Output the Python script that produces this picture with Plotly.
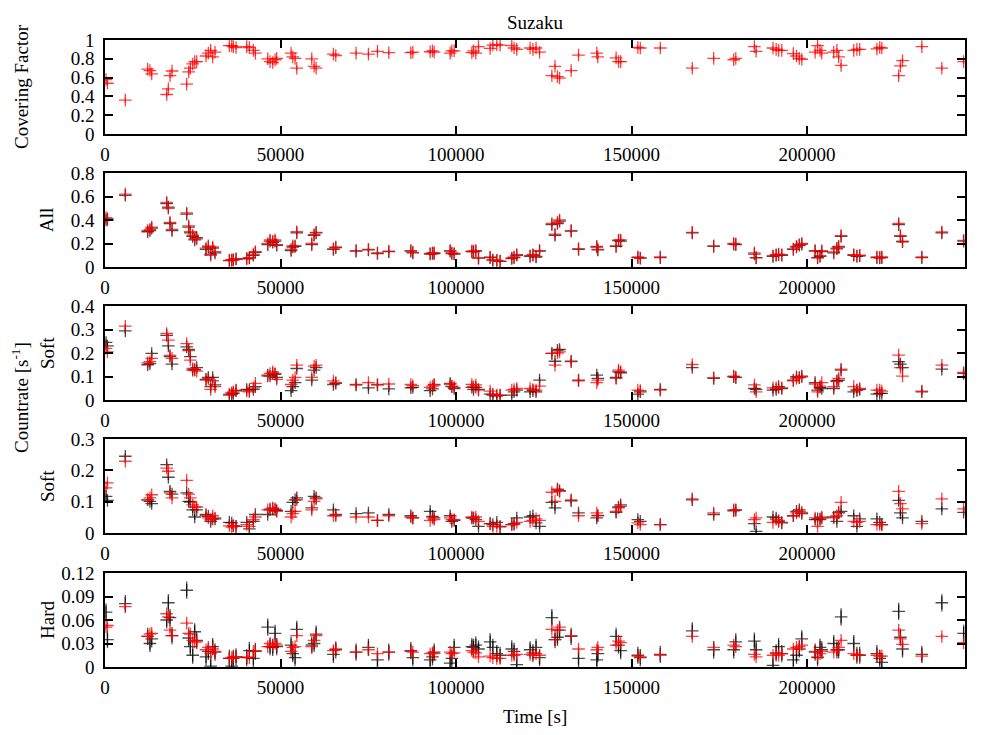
import plotly.graph_objects as go

# Time bins [s]
T = [300, 700, 5790, 12160, 12800, 13300, 17570, 18050, 18520, 19090,
     23270, 23840, 24310, 24980, 25550, 26120, 28780, 29440, 30110, 30680,
     31340, 35430, 36100, 36570, 37330, 40370, 41130, 42270, 42840, 46360,
     47020, 47780, 48450, 48920, 53010, 53490, 54150, 54630, 58900, 59570,
     60140, 65070, 65740, 71530, 75050, 77620, 80850, 87120, 87690, 92630,
     93300, 93770, 98330, 98800, 99470, 104500, 104980, 105640, 106400, 109720,
     110480, 111620, 112560, 115880, 116540, 117300, 121100, 121900, 122800, 123800,
     127300, 128200, 128900, 129500, 132800, 134900, 140100, 140400, 145600, 146300,
     146900, 151800, 152500, 158200, 167300, 173400, 179100, 179700, 185000, 185500,
     190300, 191200, 191900, 192800, 196100, 197000, 197800, 198500, 202300, 203000,
     203700, 204200, 207600, 208500, 209000, 209700, 213300, 214200, 215000, 219900,
     220700, 221300, 226100, 226600, 227200, 232700, 238400, 244600]

cover_red = [.58, .54, .36, .69, .675, .64, .42, .48, .62, .67,
             .53, .66, .70, .745, .77, .77, .83, .86, .89, .82,
             .87, .94, .94, .93, .92, .93, .92, .89, .86, .80,
             .77, .76, .79, .805, .86, .82, .805, .70, .80, .72,
             .70, .85, .835, .86, .85, .88, .865, .865, .87, .875,
             .885, .87, .86, .885, .885, .865, .885, .86, .93, .91,
             .945, .95, .945, .94, .915, .90, .915, .90, .915, .87,
             .62, .72, .61, .595, .675, .84, .86, .82, .81, .77,
             .77, .92, .915, .915, .70, .805, .79, .805, .93, .88,
             .915, .90, .89, .89, .855, .83, .805, .795, .87, .94,
             .89, .86, .87, .89, .82, .73, .89, .90, .90, .905,
             .92, .915, .62, .725, .78, .93, .70, .77]

all_red = [.42, .40, .62, .31, .32, .34, .55, .50, .38, .32,
           .46, .35, .30, .27, .24, .24, .16, .18, .10, .17,
           .13, .057, .057, .062, .07, .07, .08, .11, .13, .20,
           .23, .22, .23, .19, .15, .18, .18, .30, .20, .275,
           .295, .155, .17, .14, .15, .12, .135, .14, .125, .115,
           .12, .12, .14, .12, .115, .135, .135, .14, .077, .085,
           .06, .057, .05, .077, .085, .105, .096, .105, .09, .14,
           .37, .28, .38, .40, .31, .156, .176, .15, .18, .23,
           .23, .085, .077, .085, .295, .18, .20, .195, .12, .077,
           .096, .105, .11, .105, .153, .176, .19, .20, .14, .077,
           .096, .14, .128, .16, .176, .267, .105, .096, .10, .085,
           .082, .085, .37, .267, .22, .085, .298, .227]

all_black = [.40, .41, .61, .30, .31, .33, .54, .51, .37, .31,
             .45, .34, .29, .26, .23, .25, .15, .17, .11, .16,
             .12, .055, .06, .06, .068, .072, .078, .10, .125, .19,
             .22, .21, .22, .185, .14, .17, .175, .29, .19, .27,
             .29, .15, .165, .135, .145, .115, .13, .135, .12, .11,
             .115, .115, .135, .115, .11, .13, .13, .135, .075, .08,
             .058, .055, .048, .072, .08, .10, .09, .10, .085, .135,
             .36, .27, .37, .39, .305, .15, .17, .145, .175, .225,
             .22, .08, .075, .08, .29, .175, .195, .19, .11, .08,
             .09, .10, .105, .10, .15, .17, .185, .195, .135, .08,
             .09, .13, .12, .155, .17, .26, .10, .09, .095, .08,
             .078, .08, .36, .26, .215, .08, .29, .22]

soft1_red = [.22, .205, .314, .158, .163, .177, .283, .255, .19, .177,
             .24, .21, .17, .134, .127, .123, .085, .092, .045, .082,
             .057, .025, .031, .035, .042, .038, .035, .052, .071, .102,
             .113, .12, .113, .088, .066, .085, .096, .148, .096, .144,
             .148, .081, .074, .066, .074, .066, .068, .066, .061, .054,
             .059, .066, .071, .059, .054, .066, .057, .064, .042, .038,
             .025, .021, .021, .042, .045, .049, .049, .045, .042, .059,
             .198, .148, .20, .205, .163, .082, .074, .085, .092, .127,
             .12, .042, .04, .042, .151, .095, .102, .096, .064, .035,
             .052, .052, .052, .052, .082, .092, .096, .099, .068, .035,
             .059, .074, .057, .078, .092, .131, .057, .042, .049, .042,
             .042, .038, .191, .138, .102, .038, .148, .117]

soft1_black = [.245, .23, .294, .15, .155, .198, .275, .23, .185, .153,
               .226, .215, .185, .127, .13, .138, .088, .096, .057, .096,
               .064, .021, .025, .028, .04, .045, .042, .045, .057, .106,
               .102, .113, .109, .096, .04, .057, .074, .134, .085, .127,
               .138, .066, .071, .064, .052, .064, .047, .052, .054, .04,
               .047, .064, .068, .057, .049, .054, .045, .054, .045, .025,
               .021, .017, .02, .021, .035, .042, .035, .04, .035, .085,
               .198, .165, .212, .215, .165, .085, .106, .092, .096, .12,
               .116, .025, .035, .045, .138, .092, .099, .096, .049, .045,
               .042, .045, .057, .049, .085, .099, .095, .102, .074, .042,
               .054, .049, .049, .082, .085, .127, .035, .042, .045, .025,
               .028, .028, .163, .153, .138, .035, .131, .113]

soft2_red = [.144, .16, .229, .106, .112, .122, .207, .197, .128, .112,
             .168, .124, .112, .09, .083, .083, .055, .048, .043, .055,
             .048, .023, .019, .023, .021, .027, .021, .043, .051, .074,
             .077, .08, .077, .069, .051, .062, .069, .106, .074, .101,
             .109, .055, .055, .051, .051, .04, .055, .051, .048, .04,
             .048, .043, .048, .043, .043, .051, .048, .051, .037, .03,
             .021, .021, .021, .027, .027, .034, .037, .04, .045, .04,
             .13, .101, .138, .133, .106, .055, .064, .055, .069, .08,
             .085, .032, .027, .027, .109, .064, .074, .072, .043, .048,
             .034, .043, .04, .034, .055, .064, .069, .066, .048, .021,
             .045, .051, .048, .055, .066, .098, .037, .034, .037, .027,
             .027, .027, .133, .094, .077, .03, .109, .077]

soft2_black = [.117, .104, .245, .106, .101, .094, .218, .178, .133, .124,
               .128, .101, .099, .074, .051, .074, .059, .053, .037, .045,
               .045, .034, .032, .023, .021, .034, .013, .037, .059, .059,
               .074, .077, .074, .072, .069, .098, .106, .112, .08, .117,
               .112, .074, .059, .062, .064, .04, .059, .055, .048, .069,
               .053, .048, .055, .037, .04, .048, .048, .043, .021, .03,
               .027, .034, .02, .027, .03, .048, .051, .055, .032, .021,
               .098, .08, .14, .135, .103, .064, .048, .056, .066, .083,
               .09, .043, .037, .027, .106, .059, .071, .074, .03, .005,
               .051, .048, .037, .032, .055, .069, .074, .062, .043, .045,
               .043, .048, .051, .037, .064, .069, .055, .021, .045, .045,
               .034, .027, .104, .064, .048, .037, .077, .066]

hard_red = [.051, .053, .077, .039, .042, .043, .068, .064, .047, .04,
            .056, .043, .042, .034, .032, .032, .022, .025, .017, .023,
            .02, .011, .012, .013, .013, .013, .012, .02, .021, .026,
            .03, .028, .03, .028, .02, .025, .026, .04, .026, .034,
            .04, .021, .023, .019, .022, .017, .019, .02, .019, .017,
            .018, .017, .019, .017, .018, .021, .019, .018, .013, .014,
            .012, .011, .011, .015, .015, .016, .016, .015, .017, .015,
            .048, .035, .047, .051, .04, .023, .022, .025, .028, .033,
            .031, .014, .013, .015, .039, .025, .028, .026, .016, .013,
            .015, .017, .015, .017, .023, .025, .026, .028, .02, .013,
            .017, .02, .019, .022, .025, .034, .017, .015, .015, .015,
            .014, .014, .047, .036, .029, .014, .039, .031]

hard_black = [.07, .035, .081, .039, .03, .036, .06, .082, .063, .04,
              .098, .037, .026, .015, .045, .034, .013, .02, .001, .026,
              .019, .011, .001, .011, .013, .012, .021, .011, .02, .051,
              .026, .025, .043, .026, .028, .017, .012, .048, .028, .03,
              .042, .016, .022, .019, .025, .009, .019, .021, .012, .009,
              .013, .019, .005, .011, .025, .026, .025, .028, .023, .032,
              .025, .017, .015, .023, .02, .003, .022, .018, .025, .012,
              .063, .035, .038, .047, .039, .011, .009, .017, .039, .028,
              .021, .015, .012, .016, .046, .022, .022, .032, .033, .022,
              .002, .018, .026, .017, .009, .015, .023, .036, .019, .012,
              .025, .022, .03, .022, .022, .064, .03, .015, .015, .017,
              .011, .006, .071, .038, .023, .016, .082, .043]

# typical 1-sigma errors per series
ERR = {"cover_red": 0.025, "all_red": 0.012, "all_black": 0.014,
       "soft1_red": 0.008, "soft1_black": 0.012,
       "soft2_red": 0.006, "soft2_black": 0.009,
       "hard_red": 0.003, "hard_black": 0.011}

x_ticks = [0, 50000, 100000, 150000, 200000]
x_ticktext = ["0", "50000", "100000", "150000", "200000"]

panels = [
    dict(series=[("cover_red", cover_red, None)], yr=[0, 1],
         yt=[0, 0.2, 0.4, 0.6, 0.8, 1], ytt=["0", "0.2", "0.4", "0.6", "0.8", "1"]),
    dict(series=[("all_black", all_black, "k"), ("all_red", all_red, "r")], yr=[0, 0.8],
         yt=[0, 0.2, 0.4, 0.6, 0.8], ytt=["0", "0.2", "0.4", "0.6", "0.8"]),
    dict(series=[("soft1_black", soft1_black, "k"), ("soft1_red", soft1_red, "r")], yr=[0, 0.4],
         yt=[0, 0.1, 0.2, 0.3, 0.4], ytt=["0", "0.1", "0.2", "0.3", "0.4"]),
    dict(series=[("soft2_black", soft2_black, "k"), ("soft2_red", soft2_red, "r")], yr=[0, 0.3],
         yt=[0, 0.1, 0.2, 0.3], ytt=["0", "0.1", "0.2", "0.3"]),
    dict(series=[("hard_black", hard_black, "k"), ("hard_red", hard_red, "r")], yr=[0, 0.12],
         yt=[0, 0.03, 0.06, 0.09, 0.12], ytt=["0", "0.03", "0.06", "0.09", "0.12"]),
]

# page pixel extents; the page body adds an 8px offset
OFF = 8
W, H = 1000 - 2 * OFF, 735 - 2 * OFF
L, R, TOP, BOT = 105, 965, 40, 667
pix = [(40, 134), (173, 267), (306, 400), (439, 533), (573, 667)]

def fy(py):
    return (BOT - py) / (BOT - TOP)

def fx(px):
    return (px - L) / (R - L)

FONT = "Liberation Serif"
FS = 19
COLS = {"k": "rgba(0,0,0,0.7)", "r": "rgba(255,0,0,0.75)", None: "rgba(255,0,0,0.75)"}

fig = go.Figure()
layout = dict(
    width=W, height=H, autosize=False,
    margin=dict(l=L - OFF, r=W - (R - OFF), t=TOP - OFF, b=H - (BOT - OFF), pad=0),
    paper_bgcolor="white", plot_bgcolor="white",
    showlegend=False,
    font=dict(family=FONT, size=FS, color="black"),
    title=dict(text="Suzaku", x=0.5, xref="paper", xanchor="center",
               y=1 - (22 - OFF) / H, yref="container", yanchor="middle",
               font=dict(family=FONT, size=FS, color="black")),
)

axis_common = dict(showline=True, linewidth=1.5, linecolor="black", mirror="ticks",
                   ticks="inside", ticklen=8, tickwidth=1.5, tickcolor="black",
                   showgrid=False, zeroline=False,
                   tickfont=dict(family=FONT, size=FS, color="black"))

for i, p in enumerate(panels):
    n = i + 1
    xa = "x" if n == 1 else f"x{n}"
    ya = "y" if n == 1 else f"y{n}"
    for name, vals, c in p["series"]:
        col = COLS[c]
        fig.add_trace(go.Scatter(
            x=T, y=vals, mode="markers", xaxis=xa, yaxis=ya,
            marker=dict(symbol="cross-thin", size=9, color=col,
                        line=dict(width=1.3, color=col)),
            error_y=dict(type="constant", value=ERR[name], thickness=1.3,
                         width=0, color=col),
            hoverinfo="skip"))
    top, bot = pix[i]
    layout["xaxis" if n == 1 else f"xaxis{n}"] = dict(
        axis_common, domain=[0, 1], anchor=ya, range=[0, 245000],
        tickvals=x_ticks, ticktext=x_ticktext, ticklabelstandoff=2)
    layout["yaxis" if n == 1 else f"yaxis{n}"] = dict(
        axis_common, domain=[fy(bot), fy(top)], anchor=xa, range=p["yr"],
        tickvals=p["yt"], ticktext=p["ytt"], ticklabelstandoff=5)

ann = []
def ylab(text, px, pyc):
    ann.append(dict(text=text, x=fx(px), y=fy(pyc), xref="paper", yref="paper",
                    textangle=-90, showarrow=False, xanchor="center", yanchor="middle",
                    font=dict(family=FONT, size=FS, color="black")))

ylab("Covering Factor", 21, 87)
ylab("All", 46, 220)
ylab("Soft", 47, 353)
ylab("Countrate [s<sup>-1</sup>]", 20, 398)
ylab("Soft", 47, 486)
ylab("Hard", 47, 620)
ann.append(dict(text="Time [s]", x=0.5, y=fy(716), xref="paper", yref="paper",
                showarrow=False, xanchor="center", yanchor="middle",
                font=dict(family=FONT, size=FS, color="black")))
layout["annotations"] = ann

fig.update_layout(**layout)
fig.write_html("out.html")
